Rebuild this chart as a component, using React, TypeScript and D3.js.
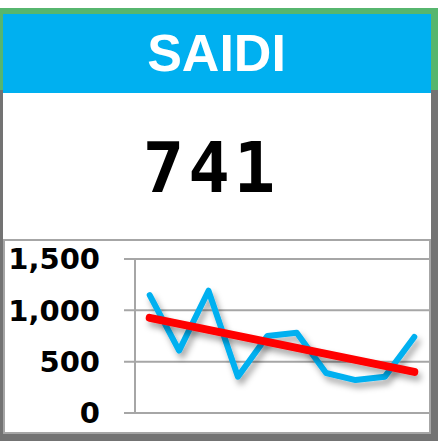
import React from "react";
import * as d3 from "d3";

const title = "SAIDI";
const currentValue = "741";
const categories = ["1", "2", "3", "4", "5", "6", "7", "8", "9", "10"];
const saidiValues = [1149, 607, 1191, 354, 750, 782, 390, 321, 354, 741];
const yTicks = [0, 500, 1000, 1500];

export default function App() {
  const W = 438;
  const H = 441;
  const plotLeft = 135;
  const plotRight = 429;
  const plotTop = 259;
  const plotBottom = 413;

  const x = d3.scaleBand<string>().domain(categories).range([plotLeft, plotRight]).padding(0);
  const y = d3.scaleLinear().domain([0, 1500]).range([plotBottom, plotTop]);
  const cx = (c: string) => (x(c) as number) + x.bandwidth() / 2;

  const line = d3
    .line<number>()
    .x((_, i) => cx(categories[i]))
    .y((d) => y(d));

  // linear regression trendline
  const n = saidiValues.length;
  const xs = saidiValues.map((_, i) => i + 1);
  const mx = d3.mean(xs) as number;
  const my = d3.mean(saidiValues) as number;
  const sxy = d3.sum(xs.map((xi, i) => (xi - mx) * (saidiValues[i] - my)));
  const sxx = d3.sum(xs.map((xi) => (xi - mx) ** 2));
  const slope = sxy / sxx;
  const intercept = my - slope * mx;
  const trend = [intercept + slope * 1, intercept + slope * n];

  const fmt = d3.format(",");

  return (
    <svg
      width={W}
      height={H}
      style={{ position: "absolute", left: 0, top: 0, background: "#fff" }}
    >
      <defs>
        <filter id="shadow" x="-20%" y="-20%" width="140%" height="160%">
          <feDropShadow dx="3" dy="5" stdDeviation="3" floodColor="#000" floodOpacity="0.35" />
        </filter>
      </defs>
      <rect x={0} y={0} width={W} height={H} fill="#fff" />
      {/* green top frame */}
      <rect x={0} y={8} width={W} height={82} fill="#56B66E" />
      {/* gray outer frame */}
      <rect x={0} y={90} width={W} height={351} fill="#737373" />
      <rect x={3} y={90} width={428} height={344} fill="#fff" />
      {/* header */}
      <rect x={3} y={14} width={428} height={79} fill="#00B0F0" />
      <text
        x={216.5}
        y={71}
        textAnchor="middle"
        fill="#fff"
        fontFamily="'Liberation Sans', Arial, sans-serif"
        fontWeight="bold"
        fontSize={52}
      >
        {title}
      </text>
      {/* big value */}
      <text
        x={211}
        y={192}
        textAnchor="middle"
        fill="#000"
        fontFamily="'DejaVu Sans Mono', monospace"
        fontWeight="bold"
        fontSize={69}
        letterSpacing={4}
      >
        {currentValue}
      </text>
      {/* chart border */}
      <rect x={4} y={240} width={426} height={193} fill="none" stroke="#A6A6A6" strokeWidth={2} />
      {/* gridlines and ticks */}
      {yTicks.map((t) => (
        <g key={t}>
          <line x1={124} x2={plotRight} y1={y(t)} y2={y(t)} stroke="#A6A6A6" strokeWidth={2} />
          <text
            x={100}
            y={y(t)}
            dy="0.36em"
            textAnchor="end"
            fill="#000"
            fontFamily="'DejaVu Sans', sans-serif"
            fontWeight="bold"
            fontSize={29}
          >
            {fmt(t)}
          </text>
        </g>
      ))}
      <line x1={plotLeft} x2={plotLeft} y1={plotTop} y2={plotBottom} stroke="#A6A6A6" strokeWidth={2} />
      {/* data line */}
      <path
        d={line(saidiValues) as string}
        fill="none"
        stroke="#00B0F0"
        strokeWidth={6}
        strokeLinejoin="round"
        strokeLinecap="round"
        filter="url(#shadow)"
      />
      {/* trendline */}
      <line
        x1={cx(categories[0])}
        x2={cx(categories[n - 1])}
        y1={y(trend[0])}
        y2={y(trend[1])}
        stroke="#FF0000"
        strokeWidth={8}
        strokeLinecap="round"
        filter="url(#shadow)"
      />
    </svg>
  );
}
